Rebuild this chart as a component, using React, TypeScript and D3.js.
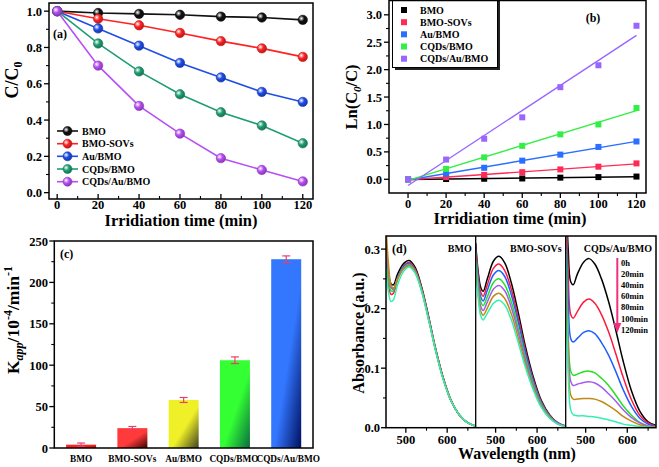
import React from 'react';
import * as d3 from 'd3';

const FONT = '"Liberation Serif","Times New Roman",serif';

// ---------- Data ----------
const seriesNames = ['BMO', 'BMO-SOVs', 'Au/BMO', 'CQDs/BMO', 'CQDs/Au/BMO'];
const times = [0, 20, 40, 60, 80, 100, 120];

// (a) C/C0
const ccBMO = [1.0, 0.99, 0.985, 0.98, 0.97, 0.965, 0.952];
const ccBMOSOVs = [1.0, 0.958, 0.922, 0.88, 0.835, 0.795, 0.748];
const ccAuBMO = [1.0, 0.905, 0.81, 0.715, 0.635, 0.555, 0.5];
const ccCQDsBMO = [1.0, 0.822, 0.668, 0.542, 0.443, 0.37, 0.272];
const ccCQDsAuBMO = [1.0, 0.7, 0.478, 0.325, 0.19, 0.125, 0.062];

// (b) ln(C0/C)
const lnBMO = [0, 0.005, 0.01, 0.015, 0.03, 0.04, 0.05];
const lnBMOSOVs = [0, 0.04, 0.08, 0.13, 0.18, 0.23, 0.29];
const lnAuBMO = [0, 0.1, 0.21, 0.34, 0.45, 0.59, 0.69];
const lnCQDsBMO = [0, 0.19, 0.4, 0.61, 0.82, 1.0, 1.3];
const lnCQDsAuBMO = [0, 0.36, 0.74, 1.13, 1.68, 2.08, 2.8];

// (c) Kapp
const kappValues = [4, 24, 58, 106, 228];
const kappErrors = [2, 2, 3, 4, 4];

// (d) spectra
const wavelengths = [452, 458, 464, 470, 480, 495, 508, 522, 538, 555, 572, 590, 610, 630, 650, 668];
const timeLabels = ['0h', '20min', '40min', '60min', '80min', '100min', '120min'];
const specBMO = [
  [0.300, 0.262, 0.242, 0.240, 0.258, 0.276, 0.281, 0.270, 0.237, 0.187, 0.133, 0.085, 0.045, 0.021, 0.008, 0.003],
  [0.290, 0.240, 0.224, 0.226, 0.250, 0.272, 0.278, 0.267, 0.235, 0.185, 0.132, 0.084, 0.045, 0.021, 0.008, 0.003],
  [0.310, 0.258, 0.236, 0.234, 0.252, 0.271, 0.276, 0.265, 0.233, 0.184, 0.131, 0.084, 0.044, 0.021, 0.008, 0.003],
  [0.300, 0.250, 0.230, 0.230, 0.250, 0.269, 0.274, 0.264, 0.232, 0.183, 0.131, 0.083, 0.044, 0.021, 0.008, 0.003],
  [0.320, 0.262, 0.236, 0.232, 0.250, 0.268, 0.273, 0.263, 0.231, 0.183, 0.130, 0.083, 0.044, 0.021, 0.008, 0.003],
  [0.340, 0.275, 0.240, 0.234, 0.250, 0.267, 0.272, 0.262, 0.231, 0.182, 0.130, 0.083, 0.044, 0.021, 0.008, 0.003],
  [0.268, 0.228, 0.212, 0.215, 0.240, 0.263, 0.270, 0.260, 0.229, 0.181, 0.129, 0.082, 0.044, 0.021, 0.008, 0.003],
];
const specBMOSOVs = [
  [0.310, 0.262, 0.236, 0.229, 0.250, 0.280, 0.288, 0.277, 0.243, 0.192, 0.136, 0.087, 0.046, 0.022, 0.008, 0.003],
  [0.305, 0.255, 0.228, 0.221, 0.240, 0.268, 0.275, 0.264, 0.232, 0.183, 0.130, 0.083, 0.044, 0.021, 0.008, 0.003],
  [0.300, 0.248, 0.220, 0.213, 0.231, 0.257, 0.264, 0.254, 0.223, 0.176, 0.125, 0.080, 0.042, 0.020, 0.008, 0.003],
  [0.295, 0.240, 0.212, 0.205, 0.220, 0.244, 0.250, 0.240, 0.211, 0.166, 0.118, 0.076, 0.040, 0.019, 0.007, 0.003],
  [0.290, 0.233, 0.204, 0.197, 0.211, 0.233, 0.239, 0.230, 0.202, 0.159, 0.113, 0.072, 0.038, 0.018, 0.007, 0.003],
  [0.285, 0.226, 0.196, 0.189, 0.201, 0.221, 0.226, 0.217, 0.191, 0.150, 0.107, 0.068, 0.036, 0.017, 0.006, 0.002],
  [0.280, 0.219, 0.188, 0.181, 0.192, 0.209, 0.214, 0.206, 0.181, 0.142, 0.101, 0.065, 0.034, 0.016, 0.006, 0.002],
];
const specCQDsAuBMO = [
  [0.420, 0.300, 0.245, 0.240, 0.258, 0.278, 0.284, 0.275, 0.250, 0.212, 0.165, 0.112, 0.062, 0.028, 0.010, 0.004],
  [0.400, 0.260, 0.190, 0.184, 0.195, 0.211, 0.216, 0.209, 0.190, 0.161, 0.125, 0.085, 0.047, 0.021, 0.008, 0.003],
  [0.380, 0.220, 0.150, 0.144, 0.150, 0.160, 0.163, 0.158, 0.143, 0.122, 0.095, 0.064, 0.036, 0.016, 0.006, 0.002],
  [0.360, 0.160, 0.095, 0.088, 0.090, 0.094, 0.095, 0.092, 0.083, 0.071, 0.055, 0.037, 0.021, 0.009, 0.003, 0.001],
  [0.350, 0.140, 0.078, 0.071, 0.073, 0.076, 0.077, 0.075, 0.068, 0.057, 0.045, 0.030, 0.017, 0.008, 0.003, 0.001],
  [0.340, 0.120, 0.055, 0.048, 0.048, 0.049, 0.049, 0.048, 0.044, 0.037, 0.029, 0.019, 0.011, 0.005, 0.002, 0.001],
  [0.300, 0.090, 0.030, 0.022, 0.020, 0.020, 0.019, 0.018, 0.016, 0.013, 0.010, 0.006, 0.004, 0.002, 0.001, 0.0005],
];
const subPanelNames = ['BMO', 'BMO-SOVs', 'CQDs/Au/BMO'];

// ---------- Styles ----------
const colorsA = ['#111111', '#ff2222', '#1f4de8', '#1f9e73', '#b84ef5'];
const colorsB = ['#000000', '#ff2a55', '#2a6fff', '#33ee44', '#9966ff'];
const specColors = ['#000000', '#ff1a3c', '#1f5fff', '#22e022', '#a35cf0', '#c08a12', '#33f0b0'];
const barLight = ['#ff2020', '#ff3a3a', '#f0f028', '#33ff33', '#3377ff'];
const barDark = ['#a00000', '#3a0000', '#404020', '#0a6a40', '#001060'];

const ccSeries = [ccBMO, ccBMOSOVs, ccAuBMO, ccCQDsBMO, ccCQDsAuBMO];
const lnSeries = [lnBMO, lnBMOSOVs, lnAuBMO, lnCQDsBMO, lnCQDsAuBMO];
const specPanels = [specBMO, specBMOSOVs, specCQDsAuBMO];

const T: React.CSSProperties = { fontFamily: FONT, fontWeight: 'bold' };
const TFS = 12.5;

function fit(xs: number[], ys: number[]) {
  const mx = d3.mean(xs)!;
  const my = d3.mean(ys)!;
  let sxy = 0, sxx = 0;
  xs.forEach((x, i) => { sxy += (x - mx) * (ys[i] - my); sxx += (x - mx) * (x - mx); });
  const b = sxy / sxx;
  return { b, a: my - b * mx };
}

function range(a: number, b: number, s: number) {
  return d3.range(a, b + s / 2, s);
}

function YTicks({ scale, x, major, minor, fmt, labelX, fs = TFS, len = 5, mlen = 3 }: any) {
  return (
    <g>
      {minor.map((v: number, i: number) => (
        <line key={'m' + i} x1={x - mlen} x2={x} y1={scale(v)} y2={scale(v)} stroke="#000" strokeWidth={1.1} />
      ))}
      {major.map((v: number, i: number) => (
        <g key={'M' + i}>
          <line x1={x - len} x2={x} y1={scale(v)} y2={scale(v)} stroke="#000" strokeWidth={1.3} />
          <text x={labelX} y={scale(v) + fs * 0.36} textAnchor="end" fontSize={fs} style={T}>{fmt(v)}</text>
        </g>
      ))}
    </g>
  );
}

function XTicks({ scale, y, major, minor, fmt, labelY, fs = TFS, dir = 1, len = 5, mlen = 3 }: any) {
  return (
    <g>
      {minor.map((v: number, i: number) => (
        <line key={'m' + i} y1={y} y2={y + dir * mlen} x1={scale(v)} x2={scale(v)} stroke="#000" strokeWidth={1.1} />
      ))}
      {major.map((v: number, i: number) => (
        <g key={'M' + i}>
          <line y1={y} y2={y + dir * len} x1={scale(v)} x2={scale(v)} stroke="#000" strokeWidth={1.3} />
          <text x={scale(v)} y={labelY} textAnchor="middle" fontSize={fs} style={T}>{fmt(v)}</text>
        </g>
      ))}
    </g>
  );
}

function PanelA() {
  const x = d3.scaleLinear().domain([-4, 125]).range([49, 313]);
  const y = d3.scaleLinear().domain([-0.035, 1.045]).range([199, 3]);
  const line = d3.line<number>().x((_, i) => x(times[i])).y((d) => y(d));
  const legY = [131, 143.7, 156.3, 169, 181.7];
  return (
    <g>
      <defs>
        {colorsA.map((c, i) => (
          <radialGradient key={i} id={'gl' + i} cx="35%" cy="35%" r="70%">
            <stop offset="0" stopColor="#ffffff" />
            <stop offset="0.45" stopColor={c} />
            <stop offset="1" stopColor={d3.color(c)!.darker(1).formatHex()} />
          </radialGradient>
        ))}
      </defs>
      <YTicks scale={y} x={49} major={range(0, 1, 0.2)} minor={range(0.1, 0.9, 0.2)} fmt={d3.format('.1f')} labelX={42} />
      <XTicks scale={x} y={199} major={range(0, 120, 20)} minor={range(10, 110, 20)} fmt={d3.format('d')} labelY={209} dir={-1} />
      {ccSeries.map((s, si) => (
        <g key={si}>
          <path d={line(s)!} fill="none" stroke={colorsA[si]} strokeWidth={1.6} />
          {s.map((v, i) => (
            <circle key={i} cx={x(times[i])} cy={y(v)} r={4.7} fill={`url(#gl${si})`} stroke={d3.color(colorsA[si])!.darker(0.8).formatHex()} strokeWidth={0.6} />
          ))}
        </g>
      ))}
      {seriesNames.map((n, i) => (
        <g key={n}>
          <line x1={57} x2={78} y1={legY[i]} y2={legY[i]} stroke={colorsA[i]} strokeWidth={1.6} />
          <circle cx={67.5} cy={legY[i]} r={4.5} fill={`url(#gl${i})`} stroke={d3.color(colorsA[i])!.darker(0.8).formatHex()} strokeWidth={0.6} />
          <text x={82} y={legY[i] + 3.5} fontSize={10} style={T}>{n}</text>
        </g>
      ))}
      <rect x={49} y={3} width={264} height={196} fill="none" stroke="#000" strokeWidth={1.5} />
      <text x={53} y={38} fontSize={12} style={T}>(a)</text>
      <text x={181} y={226} textAnchor="middle" fontSize={16.5} style={T}>Irridiation time (min)</text>
      <text transform="translate(18,80) rotate(-90)" textAnchor="middle" fontSize={18} style={T}>
        C/C<tspan dy={4} fontSize={12}>0</tspan>
      </text>
    </g>
  );
}

function PanelB() {
  const x = d3.scaleLinear().domain([-10, 125]).range([389, 646]);
  const y = d3.scaleLinear().domain([-0.25, 3.27]).range([193, 0]);
  const legY = [10, 22.2, 34.3, 46.5, 58.7];
  return (
    <g>
      <YTicks scale={y} x={389} major={range(0, 3, 0.5)} minor={range(0.25, 2.75, 0.5)} fmt={d3.format('.1f')} labelX={382} />
      <XTicks scale={x} y={193} major={range(0, 120, 20)} minor={range(10, 110, 20)} fmt={d3.format('d')} labelY={207.5} />
      {lnSeries.map((s, si) => {
        const f = fit(times, s);
        return (
          <g key={si}>
            <line x1={x(0)} x2={x(120)} y1={y(f.a)} y2={y(f.a + f.b * 120)} stroke={colorsB[si]} strokeWidth={1.4} />
            {s.map((v, i) => (
              <rect key={i} x={x(times[i]) - 3} y={y(v) - 3} width={6} height={6} fill={colorsB[si]} />
            ))}
          </g>
        );
      })}
      <rect x={395} y={1} width={105} height={69} fill="#222" />
      <rect x={392.5} y={-1} width={105} height={68.5} fill="#fff" stroke="#000" strokeWidth={1} />
      {seriesNames.map((n, i) => (
        <g key={n}>
          <rect x={401} y={legY[i] - 3} width={6} height={6} fill={colorsB[i]} />
          <text x={420} y={legY[i] + 3.5} fontSize={10} style={T}>{n}</text>
        </g>
      ))}
      <rect x={389} y={0.5} width={257} height={192.5} fill="none" stroke="#000" strokeWidth={1.5} />
      <text x={593} y={22} textAnchor="middle" fontSize={12} style={T}>(b)</text>
      <text x={510} y={224} textAnchor="middle" fontSize={16.5} style={T}>Irridiation time (min)</text>
      <text transform="translate(357,97) rotate(-90)" textAnchor="middle" fontSize={16.5} style={T}>
        Ln(C<tspan dy={4} fontSize={11} fontStyle="italic">0</tspan><tspan dy={-4}>/C)</tspan>
      </text>
    </g>
  );
}

function PanelC() {
  const x = d3.scaleBand<string>().domain(seriesNames).range([54.3, 313]).paddingInner(0.415).paddingOuter(0.23);
  const y = d3.scaleLinear().domain([0, 250]).range([448, 241]);
  return (
    <g>
      <defs>
        {barLight.map((c, i) => (
          <linearGradient key={i} id={'bar' + i} x1="0" y1="0" x2="1" y2="1">
            <stop offset="0" stopColor={c} />
            <stop offset="0.55" stopColor={c} />
            <stop offset="1" stopColor={barDark[i]} />
          </linearGradient>
        ))}
      </defs>
      <YTicks scale={y} x={54.3} major={range(0, 250, 50)} minor={range(25, 225, 50)} fmt={d3.format('d')} labelX={48} />
      {seriesNames.map((n, i) => {
        const bx = x(n)!;
        const bw = x.bandwidth();
        const cx = bx + bw / 2;
        return (
          <g key={n}>
            <rect x={bx} y={y(kappValues[i])} width={bw} height={y(0) - y(kappValues[i])} fill={`url(#bar${i})`} />
            <line x1={cx} x2={cx} y1={y(kappValues[i] - kappErrors[i])} y2={y(kappValues[i] + kappErrors[i])} stroke="#e8406a" strokeWidth={1.2} />
            <line x1={cx - 4} x2={cx + 4} y1={y(kappValues[i] + kappErrors[i])} y2={y(kappValues[i] + kappErrors[i])} stroke="#e8406a" strokeWidth={1.2} />
            <line x1={cx - 4} x2={cx + 4} y1={y(kappValues[i] - kappErrors[i])} y2={y(kappValues[i] - kappErrors[i])} stroke="#e8406a" strokeWidth={1.2} />
            <text x={i === 4 ? cx + 2 : cx - (i === 3 ? 1 : 0)} y={461.5} textAnchor="middle" fontSize={9.3} style={T}>{n}</text>
          </g>
        );
      })}
      <rect x={54.3} y={241} width={258.7} height={207} fill="none" stroke="#000" strokeWidth={1.5} />
      <text x={60} y={258} fontSize={12} style={T}>(c)</text>
      <text transform="translate(19,320) rotate(-90)" textAnchor="middle" fontSize={17.5} style={T}>
        K<tspan dy={4} fontSize={12} fontStyle="italic">app</tspan>
        <tspan dy={-4}>/10</tspan>
        <tspan dy={-7} fontSize={12}>-4</tspan>
        <tspan dy={7}>/min</tspan>
        <tspan dy={-7} fontSize={12}>-1</tspan>
      </text>
    </g>
  );
}

function PanelD() {
  const ranges: [number, number][] = [[386, 475.7], [475.7, 565.7], [565.7, 656]];
  const y = d3.scaleLinear().domain([0, 0.322]).range([427.7, 236]);
  const legendYs = [263.3, 274.3, 285.3, 296.3, 307.3, 318.5, 329.5];
  return (
    <g>
      <defs>
        {ranges.map((r, i) => (
          <clipPath key={i} id={'clipd' + i}>
            <rect x={r[0]} y={236} width={r[1] - r[0]} height={427.7 - 236} />
          </clipPath>
        ))}
      </defs>
      <YTicks scale={y} x={386} major={range(0, 0.3, 0.1)} minor={range(0.05, 0.25, 0.1)} fmt={d3.format('.1f')} labelX={380} />
      {ranges.map((r, pi) => {
        const x = d3.scaleLinear().domain([452, 669]).range(r);
        const line = d3.line<number>().x((_, i) => x(wavelengths[i])).y((d) => y(d)).curve(d3.curveCatmullRom.alpha(0.5));
        return (
          <g key={pi}>
            <g clipPath={`url(#clipd${pi})`}>
              {specPanels[pi].map((s, si) => (
                <path key={si} d={line(s)!} fill="none" stroke={specColors[si]} strokeWidth={1.5} />
              ))}
            </g>
            <XTicks scale={x} y={427.7} major={[500, 600]} minor={[550, 650]} fmt={d3.format('d')} labelY={443.5} />
            <text x={r[1] - 4} y={252} textAnchor="end" fontSize={10} style={T}>{subPanelNames[pi]}</text>
          </g>
        );
      })}
      <line x1={475.7} x2={475.7} y1={236} y2={427.7} stroke="#000" strokeWidth={1.3} />
      <line x1={565.7} x2={565.7} y1={236} y2={427.7} stroke="#000" strokeWidth={1.3} />
      <rect x={386} y={236} width={270} height={191.7} fill="none" stroke="#000" strokeWidth={1.5} />
      <line x1={617.3} x2={617.3} y1={258} y2={324} stroke="#f0307f" strokeWidth={2} />
      <polygon points="613.3,323 621.3,323 617.3,333" fill="#f0307f" />
      {timeLabels.map((t, i) => (
        <text key={t} x={621} y={legendYs[i] + 3} fontSize={8.5} style={T}>{t}</text>
      ))}
      <text x={392} y={253} fontSize={12} style={T}>(d)</text>
      <text x={517} y={459} textAnchor="middle" fontSize={16} style={T}>Wavelength (nm)</text>
      <text transform="translate(363.5,333) rotate(-90)" textAnchor="middle" fontSize={16} style={T}>Absorbance (a.u.)</text>
    </g>
  );
}

export default function App() {
  return (
    <svg width={659} height={467} style={{ position: 'absolute', left: 0, top: 0, background: '#fff' }}>
      <rect width={659} height={467} fill="#fff" />
      <PanelA />
      <PanelB />
      <PanelC />
      <PanelD />
    </svg>
  );
}
